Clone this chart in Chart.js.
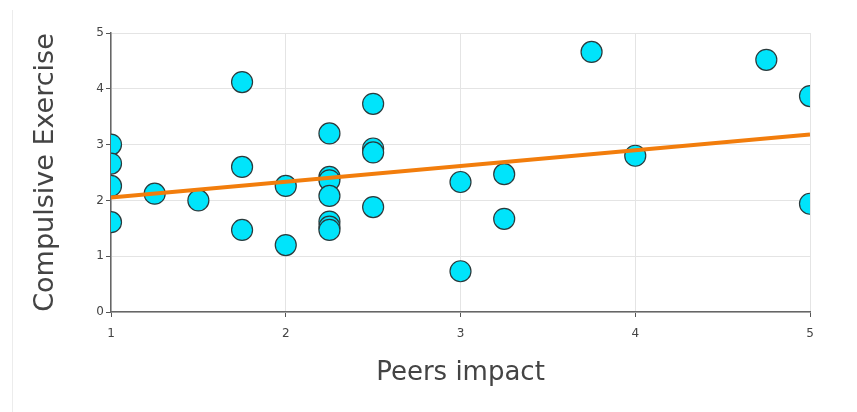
<!DOCTYPE html>
<html>
<head>
<meta charset="utf-8">
<script src="https://cdn.jsdelivr.net/npm/chart.js@4.4.0/dist/chart.umd.min.js"></script>
<style>
  body { margin: 0; background: #fff; }
  #wrap { position: relative; width: 857px; height: 412px; }
  #edge { position: absolute; left: 12px; top: 10px; width: 1px; height: 402px; background: #ececec; }
  canvas { position: absolute; left: 0; top: 0; }
</style>
</head>
<body>
<div id="wrap">
  <div id="edge"></div>
  <canvas id="chart" width="857" height="412"></canvas>
</div>
<script>
// scatter values
const peersImpact = [1, 1, 1, 1, 1.25, 1.5, 1.75, 1.75, 1.75, 2, 2,
    2.25, 2.25, 2.25, 2.25, 2.25, 2.25, 2.25, 2.5, 2.5, 2.5, 2.5,
    3, 3, 3.25, 3.25, 3.75, 4, 4.75, 5, 5];
const compulsiveExercise = [3.0, 2.66, 2.26, 1.61, 2.12, 2.0, 4.12, 2.6, 1.47, 2.26, 1.2,
    3.2, 2.42, 2.36, 2.08, 1.62, 1.53, 1.47, 3.73, 2.93, 2.86, 1.88,
    2.33, 0.73, 2.47, 1.67, 4.66, 2.8, 4.52, 3.87, 1.94];

// trend line end points
const trendX = [1, 5];
const trendY = [2.05, 3.18];

const xTicks = [1, 2, 3, 4, 5];
const yTicks = [0, 1, 2, 3, 4, 5];

const points = peersImpact.map((x, i) => ({ x: x, y: compulsiveExercise[i] }));
const trend = trendX.map((x, i) => ({ x: x, y: trendY[i] }));

const ctx = document.getElementById('chart').getContext('2d');
new Chart(ctx, {
    type: 'scatter',
    data: {
        datasets: [{
            type: 'line',
            data: trend,
            borderColor: '#f27d0c',
            borderWidth: 4,
            pointRadius: 0,
            fill: false,
            order: 0
        }, {
            data: points,
            backgroundColor: '#00e4fb',
            borderColor: '#2a3a3c',
            borderWidth: 1.2,
            pointRadius: 10.5,
            order: 1
        }]
    },
    options: {
        responsive: false,
        animation: false,
        layout: { padding: { left: 0, right: 47, top: 33, bottom: 0 } },
        plugins: { legend: { display: false }, tooltip: { enabled: false } },
        scales: {
            x: {
                type: 'linear',
                min: 1, max: 5,
                afterBuildTicks: axis => { axis.ticks = xTicks.map(v => ({ value: v })); },
                afterFit: axis => { axis.height = 100; },
                grid: { color: '#e4e4e4', tickLength: 5, tickColor: '#555' },
                border: { color: '#666', width: 1.5 },
                ticks: { font: { family: 'DejaVu Sans', size: 12 }, color: '#444', padding: 10 },
                title: {
                    display: true, text: 'Peers impact',
                    font: { family: 'DejaVu Sans', size: 26 }, color: '#444',
                    padding: { top: 4, bottom: 23 }
                }
            },
            y: {
                min: 0, max: 5,
                afterBuildTicks: axis => { axis.ticks = yTicks.map(v => ({ value: v })); },
                afterFit: axis => { axis.width = 111; },
                grid: { color: '#e4e4e4', tickLength: 5, tickColor: '#555' },
                border: { color: '#666', width: 1.5 },
                ticks: { font: { family: 'DejaVu Sans', size: 12 }, color: '#444', padding: 2 },
                title: {
                    display: true, text: 'Compulsive Exercise',
                    font: { family: 'DejaVu Sans', size: 27 }, color: '#444',
                    padding: { top: 30 }
                }
            }
        }
    }
});
</script>
</body>
</html>
